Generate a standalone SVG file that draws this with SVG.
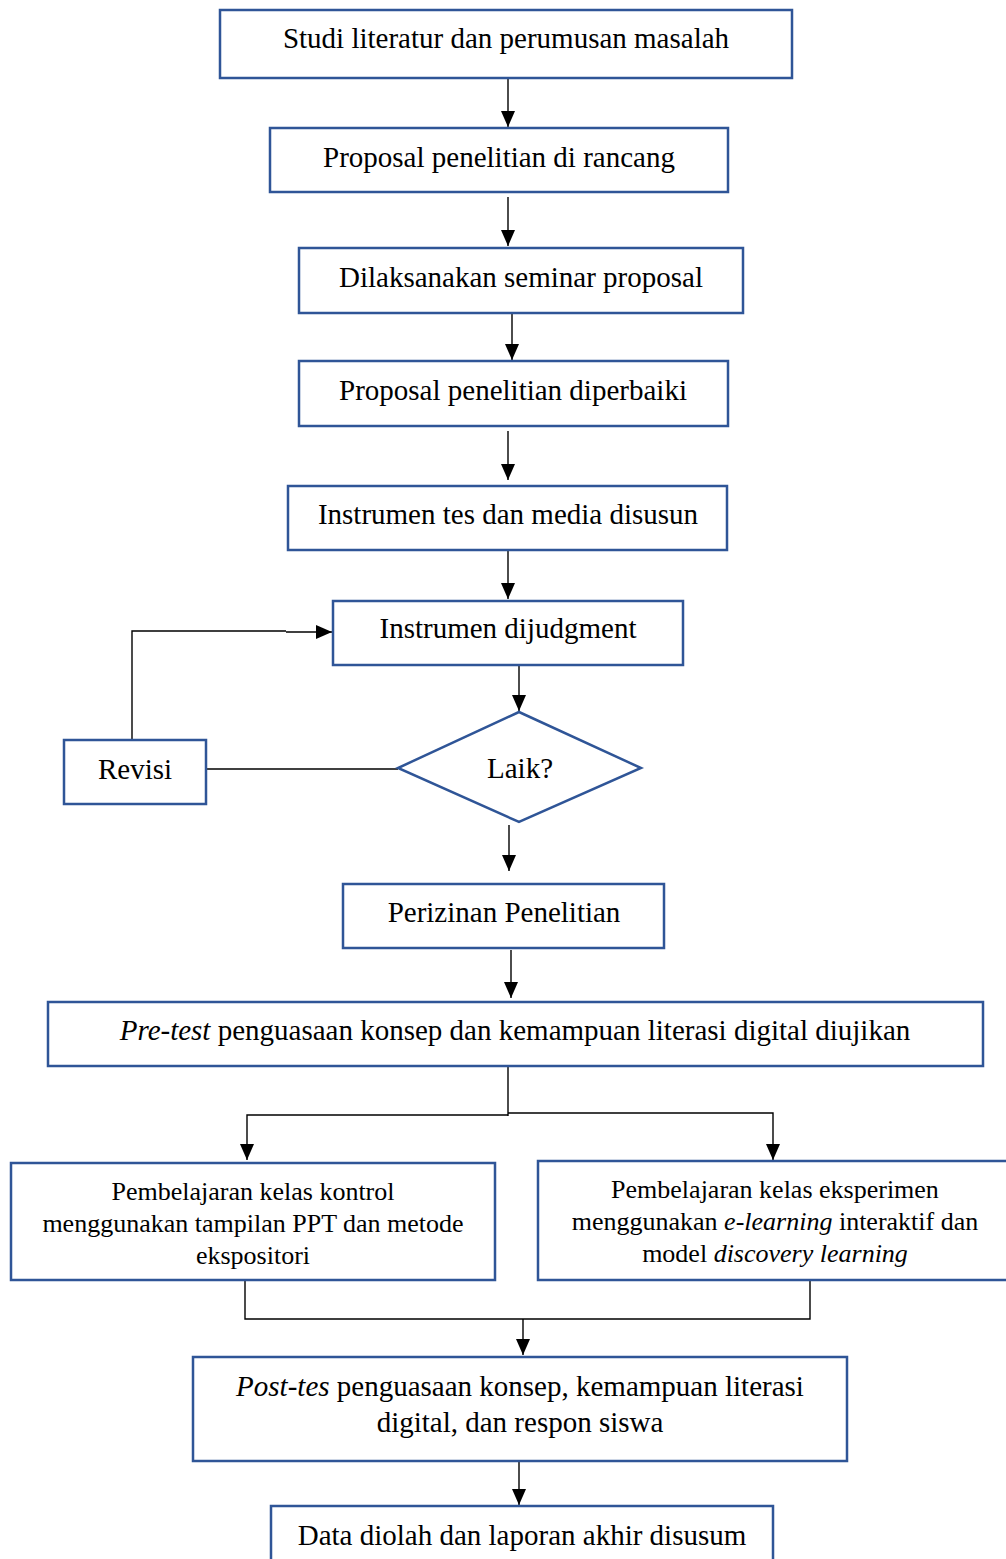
<svg xmlns="http://www.w3.org/2000/svg" width="1006" height="1559" viewBox="0 0 1006 1559">
<defs>
<marker id="ah" markerUnits="userSpaceOnUse" markerWidth="16" markerHeight="16" refX="16" refY="7" orient="auto">
<path d="M0,0 L16,7 L0,14 Z" fill="#000"/>
</marker>
<style>
.box{fill:#fff;stroke:#2F5597;stroke-width:2.5}
.t{font-family:"Liberation Serif","Times New Roman",serif;font-size:29px;fill:#000;text-anchor:middle}
.s{font-family:"Liberation Serif","Times New Roman",serif;font-size:26px;fill:#000;text-anchor:middle}
.c{fill:none;stroke:#000;stroke-width:1.4}
.a{fill:none;stroke:#000;stroke-width:1.4;marker-end:url(#ah)}
</style>
</defs>
<rect width="1006" height="1559" fill="#fff"/>
<g id="connectors">
<line class="a" x1="508" y1="79" x2="508" y2="127"/>
<line class="a" x1="508" y1="197" x2="508" y2="246"/>
<line class="a" x1="512" y1="314" x2="512" y2="360"/>
<line class="a" x1="508" y1="431" x2="508" y2="480"/>
<line class="a" x1="508" y1="551" x2="508" y2="599"/>
<line class="a" x1="519" y1="666" x2="519" y2="711"/>
<line class="c" x1="206" y1="769" x2="398" y2="769"/>
<path class="c" d="M132,740 V631 H286"/>
<path class="a" d="M286,632 H332"/>
<line class="a" x1="509" y1="825" x2="509" y2="871"/>
<line class="a" x1="511" y1="950" x2="511" y2="998"/>
<path class="c" d="M508,1066 V1116"/>
<path class="a" d="M508,1115 H247 V1160"/>
<path class="a" d="M508,1113 H773 V1160"/>
<path class="c" d="M245,1280 V1319 H810 V1280"/>
<line class="a" x1="523" y1="1319" x2="523" y2="1355"/>
<line class="a" x1="519" y1="1458" x2="519" y2="1505"/>
</g>
<g id="n1"><rect class="box" x="220" y="10" width="572" height="68"/><text class="t" x="506" y="48">Studi literatur dan perumusan masalah</text></g>
<g id="n2"><rect class="box" x="270" y="128" width="458" height="64"/><text class="t" x="499" y="167">Proposal penelitian di rancang</text></g>
<g id="n3"><rect class="box" x="299" y="248" width="444" height="65"/><text class="t" x="521" y="287">Dilaksanakan seminar proposal</text></g>
<g id="n4"><rect class="box" x="299" y="361" width="429" height="65"/><text class="t" x="513" y="400">Proposal penelitian diperbaiki</text></g>
<g id="n5"><rect class="box" x="288" y="486" width="439" height="64"/><text class="t" x="508" y="524">Instrumen tes dan media disusun</text></g>
<g id="n6"><rect class="box" x="333" y="601" width="350" height="64"/><text class="t" x="508" y="638">Instrumen dijudgment</text></g>
<g id="n7"><polygon class="box" points="519,712 641,768 519,822 398,768"/><text class="t" x="520" y="778">Laik?</text></g>
<g id="n8"><rect class="box" x="64" y="740" width="142" height="64"/><text class="t" x="135" y="779">Revisi</text></g>
<g id="n9"><rect class="box" x="343" y="884" width="321" height="64"/><text class="t" x="504" y="922">Perizinan Penelitian</text></g>
<g id="n10"><rect class="box" x="48" y="1002" width="935" height="64"/><text class="t" x="515" y="1040"><tspan font-style="italic">Pre-test</tspan> penguasaan konsep dan kemampuan literasi digital diujikan</text></g>
<g id="n11"><rect class="box" x="11" y="1163" width="484" height="117"/>
<text class="s" x="253" y="1200">Pembelajaran kelas kontrol</text>
<text class="s" x="253" y="1232">menggunakan tampilan PPT dan metode</text>
<text class="s" x="253" y="1264">ekspositori</text></g>
<g id="n12"><rect class="box" x="538" y="1161" width="480" height="119"/>
<text class="s" x="775" y="1198">Pembelajaran kelas eksperimen</text>
<text class="s" x="775" y="1230">menggunakan <tspan font-style="italic">e-learning</tspan> interaktif dan</text>
<text class="s" x="775" y="1262">model <tspan font-style="italic">discovery learning</tspan></text></g>
<g id="n13"><rect class="box" x="193" y="1357" width="654" height="104"/>
<text class="t" x="520" y="1396"><tspan font-style="italic">Post-tes</tspan> penguasaan konsep, kemampuan literasi</text>
<text class="t" x="520" y="1432">digital, dan respon siswa</text></g>
<g id="n14"><rect class="box" x="271" y="1506" width="502" height="70"/><text class="t" x="522" y="1545">Data diolah dan laporan akhir disusum</text></g>
</svg>
